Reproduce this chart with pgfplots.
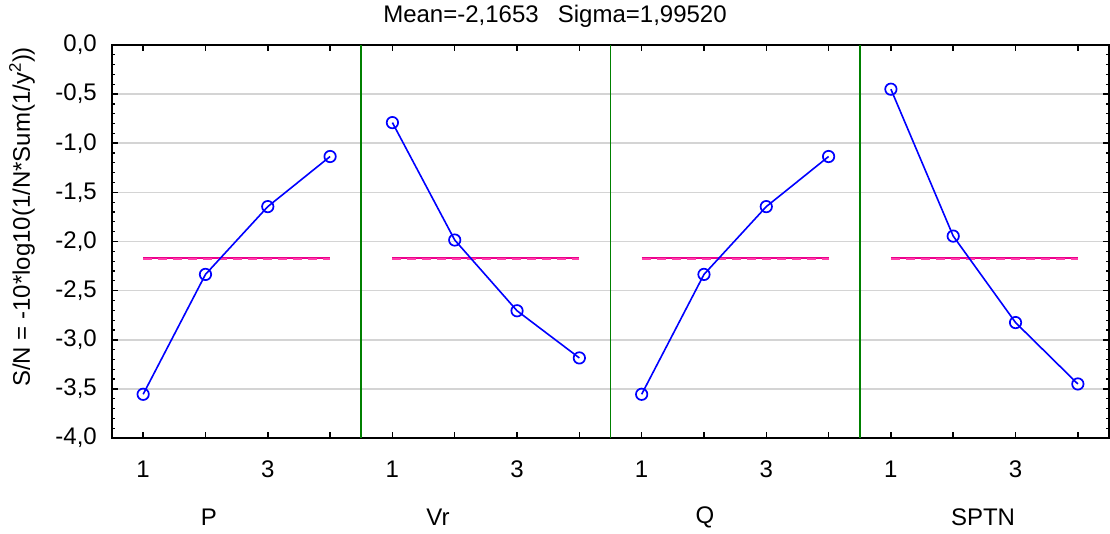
\documentclass[border=0pt]{standalone}
\usepackage{pgfplots}
\pgfplotsset{compat=1.18}
\usepackage{fontspec}
\setmainfont{Liberation Sans}
\definecolor{dgreen}{RGB}{0,128,0}
\definecolor{meanpink}{RGB}{255,60,170}
\begin{document}
\fontsize{24}{28}\selectfont
\begin{tikzpicture}
\begin{axis}[
  at={(0,0)}, anchor=south west,
  scale only axis, width=997pt, height=393pt,
  xmin=0.5, xmax=16.5, ymin=-4, ymax=0,
  xtick={1,...,16},
  xticklabels={1,,3,,1,,3,,1,,3,,1,,3,},
  ytick={-4,-3.5,-3,-2.5,-2,-1.5,-1,-0.5,0},
  minor y tick num=4,
  ymajorgrids,
  grid style={line width=1.5pt, color=black!17},
  axis line style={line width=1.5pt},
  major tick style={line width=1.5pt, black},
  minor tick style={line width=1.2pt, black},
  major tick length=6pt, minor tick length=3.5pt,
  ticklabel pos=left,
  xticklabel style={anchor=center, inner sep=0pt, yshift=-31pt},
  yticklabel style={anchor=east, inner sep=0pt, xshift=-15pt,
    /pgf/number format/fixed, /pgf/number format/fixed zerofill,
    /pgf/number format/precision=1, /pgf/number format/use comma,
    /pgf/number format/assume math mode=true},
  every axis plot/.append style={line width=1.6pt},
]
% separators
\addplot[dgreen, line width=1.8pt] coordinates {(4.5,-4) (4.5,0)};
\addplot[dgreen, line width=1.8pt] coordinates {(8.5,-4) (8.5,0)};
\addplot[dgreen, line width=1.8pt] coordinates {(12.5,-4) (12.5,0)};
% mean lines
\addplot[magenta, line width=2.2pt] coordinates {(1,-2.1653) (4,-2.1653)};
\addplot[magenta, line width=2.2pt] coordinates {(5,-2.1653) (8,-2.1653)};
\addplot[magenta, line width=2.2pt] coordinates {(9,-2.1653) (12,-2.1653)};
\addplot[magenta, line width=2.2pt] coordinates {(13,-2.1653) (16,-2.1653)};
\addplot[meanpink, line width=1.3pt, dash pattern=on 9pt off 6pt] coordinates {(1,-2.178) (4,-2.178)};
\addplot[meanpink, line width=1.3pt, dash pattern=on 9pt off 6pt] coordinates {(5,-2.178) (8,-2.178)};
\addplot[meanpink, line width=1.3pt, dash pattern=on 9pt off 6pt] coordinates {(9,-2.178) (12,-2.178)};
\addplot[meanpink, line width=1.3pt, dash pattern=on 9pt off 6pt] coordinates {(13,-2.178) (16,-2.178)};
% data
\addplot[blue, mark=o, mark size=5.7pt, mark options={line width=1.7pt}]
  coordinates {(1,-3.555) (2,-2.335) (3,-1.645) (4,-1.135)};
\addplot[blue, mark=o, mark size=5.7pt, mark options={line width=1.7pt}]
  coordinates {(5,-0.79) (6,-1.985) (7,-2.705) (8,-3.185)};
\addplot[blue, mark=o, mark size=5.7pt, mark options={line width=1.7pt}]
  coordinates {(9,-3.555) (10,-2.335) (11,-1.645) (12,-1.135)};
\addplot[blue, mark=o, mark size=5.7pt, mark options={line width=1.7pt}]
  coordinates {(13,-0.45) (14,-1.945) (15,-2.825) (16,-3.45)};
\end{axis}
\node at (443pt,422pt) {Mean=-2,1653\hspace{0.8em}Sigma=1,99520};
\node[rotate=90] at (-90pt,221pt) {S/N = -10*log10(1/N*Sum(1/y\textsuperscript{2}))};
\node at (97pt,-79pt) {P};
\node at (326pt,-79pt) {Vr};
\node at (593pt,-79pt) {Q};
\node at (871pt,-79pt) {SPTN};
\pgfresetboundingbox
\path[use as bounding box] (-112pt,-95pt) rectangle (998pt,438pt);
\end{tikzpicture}
\end{document}
